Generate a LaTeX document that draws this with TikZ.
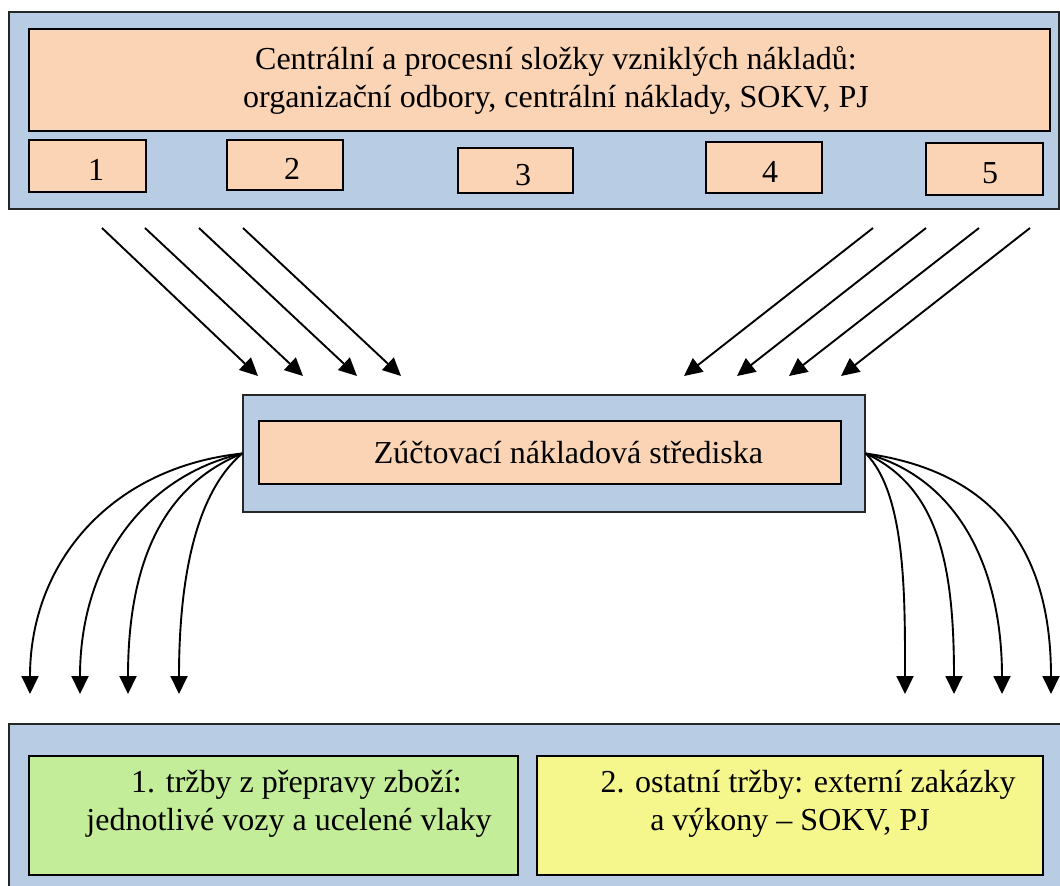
\documentclass[tikz,border=0pt]{standalone}
\usepackage{fontspec}
\setmainfont{Liberation Serif}
\usetikzlibrary{arrows.meta}

\definecolor{panelblue}{HTML}{B8CCE4}
\definecolor{peach}{HTML}{FAD4B4}
\definecolor{leafgreen}{HTML}{C4ED9A}
\definecolor{paleyellow}{HTML}{F5F78C}

\begin{document}
\begin{tikzpicture}[x=1pt,y=1pt,
  panel/.style={rectangle, draw=black!85, line width=1.5pt, fill=panelblue, inner sep=0pt},
  cell/.style={rectangle, draw=black, line width=1.6pt, fill=peach, inner sep=0pt,
    font=\fontsize{32}{38}\selectfont},
  digit/.style={cell, text height=29pt, text depth=0pt},
  flow/.style={line width=1.9pt, -{Triangle[length=18pt,width=17pt]}}]

\useasboundingbox (0,0) rectangle (1060,-886);
\clip (0,0) rectangle (1060,-886);

% --- cost sources ---
\node[panel, minimum width=1050, minimum height=197] (src) at (534,-110.5) {};
\node[cell, minimum width=1021, minimum height=102, align=center] (srcmain) at (539.5,-80)
  {\hspace*{33pt}Centrální a procesní složky vzniklých nákladů:\\
   \hspace*{33pt}organizační odbory, centrální náklady, SOKV, PJ};
\node[digit, minimum width=117, minimum height=52] (b1) at (87.5,-166)  {\hspace*{17pt}1};
\node[digit, minimum width=116, minimum height=50] (b2) at (285,-165)   {\hspace*{14pt}2};
\node[digit, minimum width=115, minimum height=45] (b3) at (515.5,-170.5) {\hspace*{15pt}3};
\node[digit, minimum width=116, minimum height=51] (b4) at (764,-167.5) {\hspace*{12pt}4};
\node[digit, minimum width=117, minimum height=52] (b5) at (984.5,-169) {\hspace*{11pt}5};

% --- settlement cost centres ---
\node[panel, minimum width=622, minimum height=117] (hub) at (554,-453.5) {};
\node[cell, minimum width=582, minimum height=63] (hubtext) at (550,-452.5)
  {\hspace*{37pt}Zúčtovací nákladová střediska};

% --- revenues ---
\node[panel, minimum width=1066, minimum height=176] (sink) at (542,-812) {};
\node[cell, fill=leafgreen, minimum width=489, minimum height=119, align=center] (rev1) at (273.5,-815.5)
  {\hspace*{46pt}1. tržby z přepravy zboží:\\
   \hspace*{31pt}jednotlivé vozy a ucelené vlaky\rule[-31pt]{0pt}{31pt}};
\node[cell, fill=paleyellow, minimum width=506, minimum height=119, align=center] (rev2) at (790,-815.5)
  {\hspace*{36pt}2. ostatní tržby: externí zakázky\\
   a výkony – SOKV, PJ\rule[-31pt]{0pt}{31pt}};

% --- end points of the incoming arrows ---
\coordinate (la1) at (102,-228);  \coordinate (lb1) at (258,-376);
\coordinate (la2) at (145,-228);  \coordinate (lb2) at (303,-376);
\coordinate (la3) at (199,-228);  \coordinate (lb3) at (357,-376);
\coordinate (la4) at (243,-228);  \coordinate (lb4) at (401,-376);
\coordinate (ra1) at (873,-228);  \coordinate (rb1) at (684,-376);
\coordinate (ra2) at (926,-228);  \coordinate (rb2) at (737,-376);
\coordinate (ra3) at (979,-228);  \coordinate (rb3) at (789,-376);
\coordinate (ra4) at (1030,-228); \coordinate (rb4) at (841,-376);

\foreach \i in {1,...,4}{
  \draw[flow] (la\i) -- (lb\i);
  \draw[flow] (ra\i) -- (rb\i);
}

% --- end points of the outgoing arrows ---
\coordinate (lo1) at (30,-694);
\coordinate (lo2) at (80,-694);
\coordinate (lo3) at (128,-694);
\coordinate (lo4) at (179,-694);
\coordinate (ro1) at (905,-694);
\coordinate (ro2) at (954,-694);
\coordinate (ro3) at (1002,-694);
\coordinate (ro4) at (1051,-694);

\draw[flow] (hub.west) to[out=186,in=90,out looseness=1.05,in looseness=1.05] (lo1);
\draw[flow] (hub.west) to[out=193,in=90,out looseness=0.9,in looseness=1.15] (lo2);
\draw[flow] (hub.west) to[out=202,in=90,out looseness=0.8,in looseness=1.3] (lo3);
\draw[flow] (hub.west) to[out=220,in=90,out looseness=0.7,in looseness=1] (lo4);

\draw[flow] (hub.east) to[out=-45,in=90,out looseness=0.6,in looseness=1] (ro1);
\draw[flow] (hub.east) to[out=-25,in=90,out looseness=0.8,in looseness=1.3] (ro2);
\draw[flow] (hub.east) to[out=-15,in=90,out looseness=0.9,in looseness=1.15] (ro3);
\draw[flow] (hub.east) to[out=-8,in=90,out looseness=1.15,in looseness=1.15] (ro4);

\end{tikzpicture}
\end{document}
